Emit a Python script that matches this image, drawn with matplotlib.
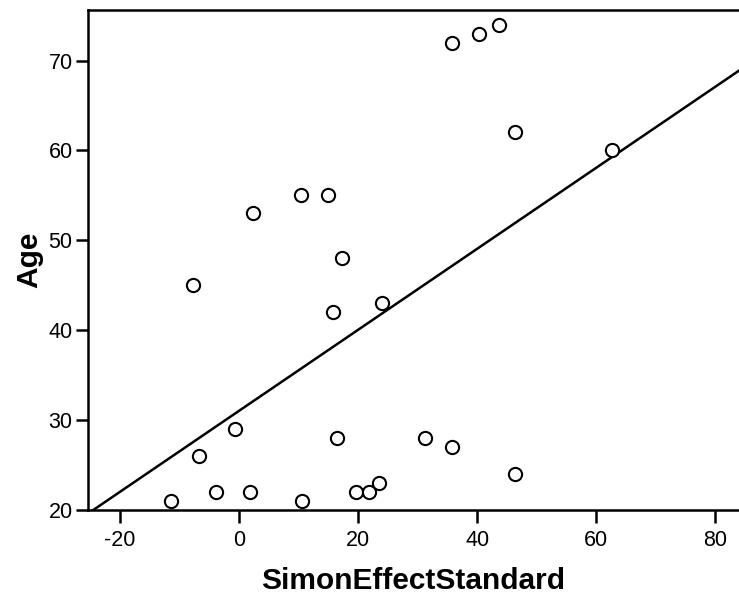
import numpy as np
import matplotlib
matplotlib.use("Agg")
import matplotlib.pyplot as plt

plt.rcParams["font.family"] = ["Liberation Sans", "DejaVu Sans"]
plt.rcParams["axes.unicode_minus"] = False

# SimonEffectStandard vs Age
simon_effect = [-11.4, -6.8, -7.7, -3.8, -0.7, 1.9, 2.35, 10.5, 10.4, 15.0,
                17.3, 15.7, 16.5, 19.6, 21.8, 23.5, 24.0, 31.3, 35.8, 35.8,
                40.3, 43.7, 46.4, 46.3, 62.7]
age = [21, 26, 45, 22, 29, 22, 53, 21, 55, 55,
       48, 42, 28, 22, 22, 23, 43, 28, 27, 72,
       73, 74, 62, 24, 60]

xticks = [-20, 0, 20, 40, 60, 80]
yticks = [20, 30, 40, 50, 60, 70]

fig = plt.figure(figsize=(7.39, 5.98), dpi=100)
ax = fig.add_axes([0.119, 0.147, 0.881, 0.836])

ax.plot(simon_effect, age, "o", markersize=9.5, markerfacecolor="white",
        markeredgecolor="black", markeredgewidth=1.5, linestyle="none", zorder=3)

# least squares fit line
slope, intercept = np.polyfit(simon_effect, age, 1)
xlim = (-25.4, 84.0)
xs = np.array(xlim)
ax.plot(xs, intercept + slope * xs, color="black", linewidth=1.8, zorder=2)

ax.set_xlim(*xlim)
ax.set_ylim(20, 75.6)
ax.set_xticks(xticks)
ax.set_yticks(yticks)

for side in ["left", "top", "bottom"]:
    ax.spines[side].set_linewidth(1.8)
ax.spines["right"].set_visible(False)

ax.tick_params(direction="out", length=9, width=1.8, labelsize=15.5, pad=2)
ax.tick_params(axis="x", pad=5)

ax.set_xlabel("SimonEffectStandard", fontsize=21.5, fontweight="bold", labelpad=12)
ax.set_ylabel("Age", fontsize=21.5, fontweight="bold", labelpad=4)

fig.savefig("out.png", dpi=100)
